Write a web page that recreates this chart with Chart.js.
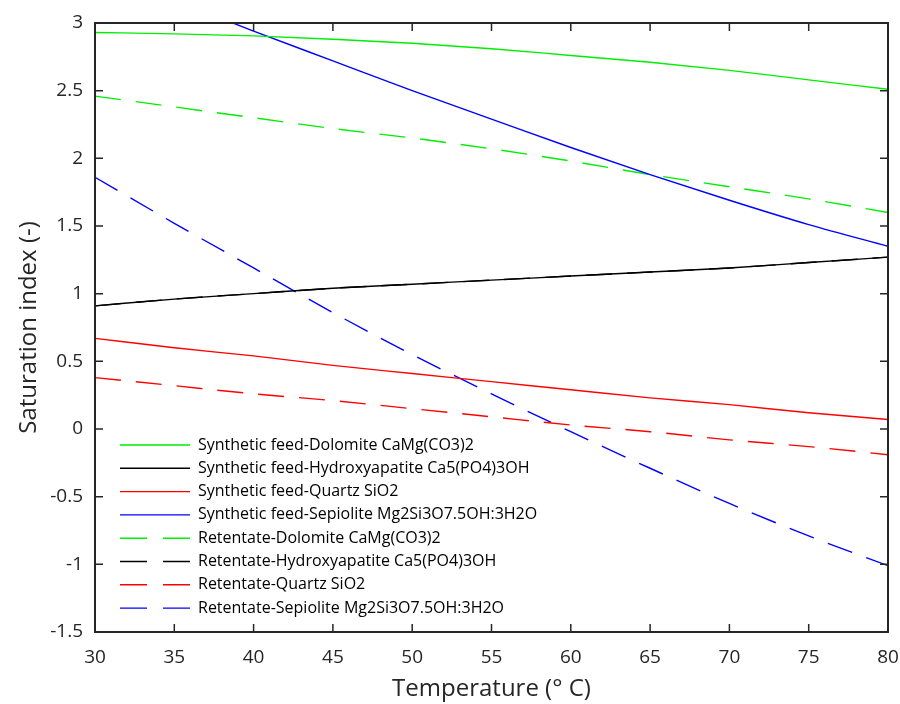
<!DOCTYPE html>
<html>
<head>
<meta charset="utf-8">
<script src="https://cdn.jsdelivr.net/npm/chart.js@4"></script>
<style>
  html, body { margin: 0; padding: 0; background: #fff; }
  #wrap { width: 900px; height: 704px; }
</style>
</head>
<body>
<div id="wrap"><canvas id="si"></canvas></div>
<script>
// temperatures (°C)
const temps = [30, 35, 40, 45, 50, 55, 60, 65, 70, 75, 80];

// saturation index
const feedDolomite = [2.93, 2.92, 2.905, 2.88, 2.85, 2.81, 2.76, 2.71, 2.65, 2.58, 2.51];
const feedHydroxy  = [0.91, 0.96, 1.00, 1.04, 1.07, 1.10, 1.13, 1.16, 1.19, 1.23, 1.27];
const feedQuartz   = [0.67, 0.60, 0.54, 0.47, 0.41, 0.35, 0.29, 0.23, 0.18, 0.12, 0.07];
const feedSepio    = [3.40, 3.17, 2.94, 2.72, 2.50, 2.29, 2.08, 1.88, 1.69, 1.51, 1.35];
const retDolomite  = [2.46, 2.38, 2.30, 2.22, 2.15, 2.07, 1.98, 1.88, 1.79, 1.70, 1.60];
const retHydroxy   = [0.91, 0.96, 1.00, 1.04, 1.07, 1.10, 1.13, 1.16, 1.19, 1.23, 1.27];
const retQuartz    = [0.38, 0.32, 0.26, 0.21, 0.15, 0.09, 0.03, -0.02, -0.08, -0.13, -0.19];
const retSepio     = [1.86, 1.52, 1.19, 0.86, 0.55, 0.26, -0.02, -0.29, -0.55, -0.79, -1.01];

const xTicks = [30, 35, 40, 45, 50, 55, 60, 65, 70, 75, 80];
const yTicks = [-1.5, -1, -0.5, 0, 0.5, 1, 1.5, 2, 2.5, 3];

const AXIS = "#262626";
const FONT = "'Open Sans', sans-serif";
const DASH = [26, 15];

const pts = (ys) => temps.map((t, i) => ({ x: t, y: ys[i] }));

const mk = (label, ys, color, dashed) => ({
  label,
  data: pts(ys),
  borderColor: color,
  backgroundColor: color,
  borderWidth: 1.4,
  borderDash: dashed ? DASH : [],
  pointRadius: 0,
  cubicInterpolationMode: "monotone",
  fill: false,
});

// boxed axes with inward ticks, MATLAB style
const boxTicks = {
  id: "boxTicks",
  afterDatasetsDraw(chart) {
    const { ctx, chartArea: a, scales } = chart;
    const len = 8;
    ctx.save();
    ctx.strokeStyle = AXIS;
    ctx.lineWidth = 1.5;
    ctx.setLineDash([]);
    ctx.beginPath();
    xTicks.forEach((v) => {
      const px = scales.x.getPixelForValue(v);
      ctx.moveTo(px, a.bottom); ctx.lineTo(px, a.bottom - len);
      ctx.moveTo(px, a.top); ctx.lineTo(px, a.top + len);
    });
    yTicks.forEach((v) => {
      const py = scales.y.getPixelForValue(v);
      ctx.moveTo(a.left, py); ctx.lineTo(a.left + len, py);
      ctx.moveTo(a.right, py); ctx.lineTo(a.right - len, py);
    });
    ctx.stroke();
    ctx.lineWidth = 2;
    ctx.strokeRect(a.left, a.top, a.right - a.left, a.bottom - a.top);
    ctx.restore();
  },
};

// legend inside the axes, bottom-left
const innerLegend = {
  id: "innerLegend",
  afterDraw(chart) {
    const { ctx, chartArea: a } = chart;
    const x0 = a.left + 25, lineLen = 70, rowH = 23.3;
    let y = 445;
    ctx.save();
    ctx.font = "16px " + FONT;
    ctx.textBaseline = "middle";
    ctx.fillStyle = "#000";
    chart.data.datasets.forEach((ds) => {
      ctx.strokeStyle = ds.borderColor;
      ctx.lineWidth = 1.4;
      ctx.setLineDash(ds.borderDash.length ? [27, 16] : []);
      ctx.beginPath();
      ctx.moveTo(x0, y);
      ctx.lineTo(x0 + lineLen, y);
      ctx.stroke();
      ctx.setLineDash([]);
      ctx.fillText(ds.label, x0 + lineLen + 8, y);
      y += rowH;
    });
    ctx.restore();
  },
};

new Chart(document.getElementById("si"), {
  type: "line",
  data: {
    datasets: [
      mk("Synthetic feed-Dolomite CaMg(CO3)2", feedDolomite, "#00ee00", false),
      mk("Synthetic feed-Hydroxyapatite Ca5(PO4)3OH", feedHydroxy, "#000000", false),
      mk("Synthetic feed-Quartz SiO2", feedQuartz, "#ff0000", false),
      mk("Synthetic feed-Sepiolite Mg2Si3O7.5OH:3H2O", feedSepio, "#0000ff", false),
      mk("Retentate-Dolomite CaMg(CO3)2", retDolomite, "#00ee00", true),
      mk("Retentate-Hydroxyapatite Ca5(PO4)3OH", retHydroxy, "#000000", true),
      mk("Retentate-Quartz SiO2", retQuartz, "#ff0000", true),
      mk("Retentate-Sepiolite Mg2Si3O7.5OH:3H2O", retSepio, "#0000ff", true),
    ],
  },
  options: {
    responsive: true,
    maintainAspectRatio: false,
    animation: false,
    layout: { padding: { top: 23, right: 12, left: 0, bottom: 0 } },
    plugins: {
      legend: { display: false },
      tooltip: { enabled: false },
    },
    scales: {
      x: {
        type: "linear",
        min: 30,
        max: 80,
        afterBuildTicks: (s) => { s.ticks = xTicks.map((v) => ({ value: v })); },
        afterFit: (s) => { s.height = 72; s.paddingLeft = 0; s.paddingRight = 0; },
        grid: { display: false, drawTicks: false },
        border: { display: false },
        ticks: { color: AXIS, font: { family: FONT, size: 19 }, padding: 14, callback: (v) => String(v) },
        title: {
          display: true,
          text: "Temperature (° C)",
          color: AXIS,
          font: { family: FONT, size: 24 },
          padding: { top: 0, bottom: 0 },
        },
      },
      y: {
        min: -1.5,
        max: 3,
        afterBuildTicks: (s) => { s.ticks = yTicks.map((v) => ({ value: v })); },
        afterFit: (s) => { s.width = 95; s.paddingTop = 0; s.paddingBottom = 0; },
        grid: { display: false, drawTicks: false },
        border: { display: false },
        ticks: { color: AXIS, font: { family: FONT, size: 19 }, padding: 12, callback: (v) => String(v) },
        title: {
          display: true,
          text: "Saturation index (-)",
          color: AXIS,
          font: { family: FONT, size: 24 },
          padding: { top: 15, bottom: 0 },
        },
      },
    },
  },
  plugins: [boxTicks, innerLegend],
});
</script>
</body>
</html>
